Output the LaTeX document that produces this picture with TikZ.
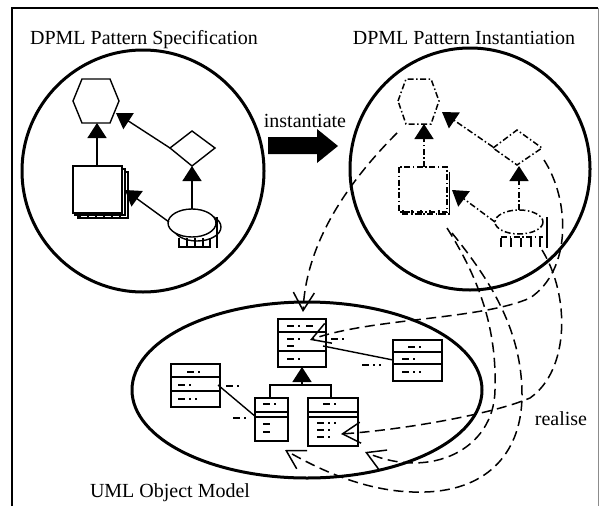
\documentclass[tikz,border=0pt]{standalone}
\usepackage{fontspec}
\setmainfont{Liberation Serif}
\usetikzlibrary{arrows.meta}
\tikzset{
  pics/tA/.style={code={\draw[mk] (0,0)--(7,0) (11,0)--(13,0) (19,0)--(26,0);}},
  pics/tB/.style={code={\draw[mk] (0,0)--(7,0) (11,0)--(13,0);}},
  pics/tC/.style={code={\draw[mk] (0,0)--(7,0) (11,0)--(13,0) (17,0)--(19,0);}},
  pics/tD/.style={code={\draw[mk] (0,0)--(7,0);}},
}
\begin{document}
\begin{tikzpicture}[x=1pt,y=-1pt,
  frame/.style={line width=1.4pt},
  ring/.style={line width=3pt},
  shp/.style={line width=1.4pt},
  dd/.style={line width=1.5pt, dash pattern=on 6pt off 2.5pt on 1.5pt off 2.5pt},
  gen/.style={-{Triangle[length=15pt,width=19pt]}},
  real/.style={line width=1.5pt, dash pattern=on 10pt off 5.5pt, -{Straight Barb[length=18pt,width=21pt]}},
  cls/.style={line width=1.5pt, fill=white},
  assoc/.style={line width=1.4pt},
  mk/.style={line width=2.4pt},
  lbl/.style={font=\fontsize{20}{24}\selectfont, inner sep=0pt, anchor=base},
]
\useasboundingbox (0,0) rectangle (599,506);

% outer frame (open at the bottom)
\draw[frame] (12,506) -- (12,8) -- (598,8);
\draw[line width=1pt, black!45] (598,8) -- (598,506);

% titles
\node[lbl] (specT) at (144,44) {DPML Pattern Specification};
\node[lbl] (instT) at (464,44) {DPML Pattern Instantiation};
\node[lbl] (instA) at (305,127) {instantiate};
\node[lbl] (realL) at (561,425) {realise};
\node[lbl] (umlT)  at (170,497) {UML Object Model};

% the three regions
\draw[ring] (143,171) circle [radius=121];
\draw[ring] (470,169) ellipse [x radius=120, y radius=121];
\draw[ring] (307,390) ellipse [x radius=175, y radius=88];

% instantiate block arrow
\fill (268,137) -- (317,137) -- (317,129) -- (338,146) -- (317,163) -- (317,154) -- (268,154) -- cycle;

% ---------- pattern specification ----------
\draw[shp] (73,101) -- (82,79) -- (110,79) -- (119,101) -- (110,123) -- (82,123) -- cycle;
\draw[shp, fill=white] (78,172) rectangle (128,218);
\draw[shp, fill=white] (75,169) rectangle (125,215);
\draw[shp, fill=white] (73,166) rectangle (122,213);
\foreach \x in {80,88,96,104,112,120} \draw[shp] (\x,213) -- (\x,218);
\draw[shp] (170,148) -- (192,131) -- (215,148) -- (192,166) -- cycle;
\draw[shp] (197,227) ellipse [x radius=24, y radius=14];
\draw[shp, fill=white] (192,223) ellipse [x radius=24, y radius=14];
\foreach \x in {179,187,195,203,210} \draw[shp] (\x,238) -- (\x,248);
\draw[shp] (217,217) -- (217,248);
\draw[shp] (179,247) -- (210,247);

\coordinate (hxB) at (97,123);
\coordinate (hxR) at (116,113);
\coordinate (sqT) at (97,166);
\coordinate (sqR) at (125,190);
\coordinate (dmL) at (170,148);
\coordinate (dmB) at (192,166);
\coordinate (elT) at (192,209);
\coordinate (elL) at (169,222);
\draw[shp, gen] (sqT) -- (hxB);
\draw[shp, gen] (dmL) -- (hxR);
\draw[shp, gen] (elT) -- (dmB);
\draw[shp, gen] (elL) -- (sqR);

% ---------- pattern instantiation ----------
\draw[dd] (398,101) -- (406,79) -- (431,79) -- (439,101) -- (431,124) -- (406,124) -- cycle;
\draw[dd] (399,167) rectangle (447,212);
\draw[shp] (449.5,172) -- (449.5,215);
\draw[dd] (402,214) -- (449,214);
\foreach \x in {403,412,421,430,439} \draw[shp] (\x,210) -- (\x,215);
\draw[dd] (493,148) -- (517,130) -- (542,148) -- (517,165) -- cycle;
\draw[dd] (519,222) ellipse [x radius=24, y radius=12];
\draw[shp] (547,217) -- (547,248);
\draw[dd] (501,237) -- (543,237);
\foreach \x in {501,511,521,531,540} \draw[shp] (\x,238) -- (\x,247);

\coordinate (hx2B) at (424,124);
\coordinate (hx2R) at (442,112);
\coordinate (hx2S) at (397,133);
\coordinate (sq2T) at (424,167);
\coordinate (sq2R) at (452,190);
\coordinate (sq2S) at (447,228);
\coordinate (sq2U) at (452,233);
\coordinate (dm2L) at (493,147);
\coordinate (dm2B) at (519,166);
\coordinate (dm2S) at (544,160);
\coordinate (el2T) at (519,210);
\coordinate (el2L) at (495,222);
\coordinate (el2S) at (542,250);
\draw[dd, gen] (sq2T) -- (hx2B);
\draw[dd, gen] (dm2L) -- (hx2R);
\draw[dd, gen] (el2T) -- (dm2B);
\draw[dd, gen] (el2L) -- (sq2R);

% ---------- UML object model ----------
\draw[cls] (278,319) rectangle (326,367);
\draw[line width=1.5pt] (278,332) -- (326,332) (278,351) -- (326,351);
\draw[cls] (171,364) rectangle (220,407);
\draw[line width=1.5pt] (171,377) -- (220,377) (171,391) -- (220,391);
\draw[cls] (255,398) rectangle (288,441);
\draw[line width=1.5pt] (255,412) -- (288,412) (255,417) -- (288,417);
\draw[cls] (308,398) rectangle (358,446);
\draw[line width=1.5pt] (308,412) -- (358,412) (308,417) -- (358,417);
\draw[cls] (393,340) rectangle (442,381);
\draw[line width=1.5pt] (393,352) -- (442,352) (393,364) -- (442,364);

\pic at (287,326) {tA}; \pic at (287,339) {tB}; \pic at (287,346) {tD}; \pic at (287,359) {tB};
\pic at (187,372) {tB}; \pic at (178,385) {tB}; \pic at (178,399) {tC};
\pic at (263,404) {tB}; \pic at (263,424) {tD}; \pic at (263,432) {tD};
\pic at (323,404) {tB}; \pic at (317,423) {tC}; \pic at (317,430) {tB}; \pic at (317,437) {tB};
\pic at (408,347) {tB}; \pic at (402,359) {tB}; \pic at (402,372) {tC};
\pic at (331,339) {tB}; \pic at (362,365) {tC}; \pic at (226,386) {tB}; \pic at (233,418) {tB};

\coordinate (tA) at (323,346);
\coordinate (qL) at (393,360);
\coordinate (lR) at (218,385);
\coordinate (mL) at (256,417);
\draw[assoc] (tA) -- (qL);
\draw[assoc] (lR) -- (mL);

% generalisation
\coordinate (tB) at (302,367);
\coordinate (gJ) at (302,385);
\coordinate (mT) at (270,398);
\coordinate (rT) at (331,398);
\draw[line width=1.5pt] (mT) |- (gJ) -| (rT);
\draw[line width=1.5pt, gen] (gJ) -- (tB);

% realisation links
\coordinate (tRe) at (303,312);
\coordinate (tRow) at (310,340);
\coordinate (rRow) at (341,434);
\coordinate (mBot) at (285,450);
\coordinate (rBot) at (365,452);
\draw[real] (hx2S) .. controls (345,185) and (306,245) .. (tRe);
\draw[real] (dm2S) .. controls (570,200) and (572,270) .. (530,298)
                  .. controls (480,320) and (370,318) .. (tRow);
\draw[real] (el2S) .. controls (570,295) and (570,370) .. (530,398)
                  .. controls (490,415) and (400,430) .. (rRow);
\draw[real] (sq2S) .. controls (480,280) and (497,330) .. (495,390)
                  .. controls (494,450) and (430,480) .. (rBot);
\draw[real] (sq2U) .. controls (490,280) and (522,330) .. (522,395)
                  .. controls (522,450) and (490,490) .. (425,492)
                  .. controls (370,494) and (320,470) .. (mBot);
\end{tikzpicture}
\end{document}
